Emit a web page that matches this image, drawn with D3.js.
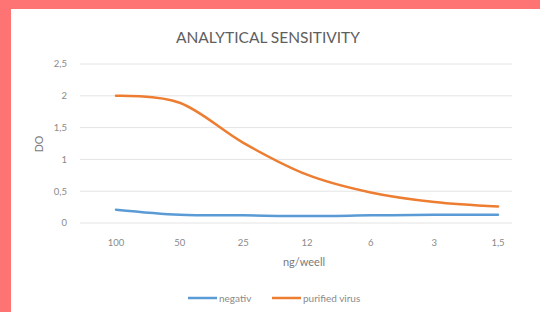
<!DOCTYPE html>
<html>
<head>
<meta charset="utf-8">
<script src="https://cdn.jsdelivr.net/npm/d3@7"></script>
<style>
  body { margin: 0; background: #fe7373; }
  svg { display: block; }
  text { font-family: Lato, "Open Sans", sans-serif; }
</style>
</head>
<body>
<div id="chartDiv"></div>
<script>
const categories = ['100', '50', '25', '12', '6', '3', '1,5'];
const negativ = [0.21, 0.13, 0.12, 0.11, 0.12, 0.13, 0.13];
const purified = [2.0, 1.89, 1.26, 0.76, 0.48, 0.33, 0.26];
const yTicks = [0, 0.5, 1, 1.5, 2, 2.5];
const series = [
    { name: 'negativ', values: negativ, color: '#5b9bd5' },
    { name: 'purified virus', values: purified, color: '#ed7d31' }
];

const W = 540, H = 312;
const svg = d3.select('#chartDiv').append('svg').attr('width', W).attr('height', H);

// white panel
svg.append('rect')
    .attr('x', 11).attr('y', 9)
    .attr('width', W - 11).attr('height', H - 9)
    .attr('fill', '#fff');

const x = d3.scalePoint().domain(categories).range([116, 498]);
const y = d3.scaleLinear().domain([0, 2.5]).range([223, 64]);

// gridlines
svg.append('g').selectAll('line')
    .data(yTicks)
    .enter().append('line')
    .attr('x1', 80).attr('x2', 512)
    .attr('y1', d => y(d)).attr('y2', d => y(d))
    .attr('stroke', '#e4e4e4').attr('stroke-width', 1);

// y labels
svg.append('g').selectAll('text')
    .data(yTicks)
    .enter().append('text')
    .attr('x', 67).attr('y', d => y(d))
    .attr('dy', '0.35em')
    .attr('text-anchor', 'end')
    .attr('font-size', 9.5)
    .attr('fill', '#8a8a8a')
    .text(d => String(d).replace('.', ','));

// x labels
svg.append('g').selectAll('text')
    .data(categories)
    .enter().append('text')
    .attr('x', d => x(d)).attr('y', 246)
    .attr('text-anchor', 'middle')
    .attr('font-size', 9.5)
    .attr('fill', '#8a8a8a')
    .text(d => d);

// title
svg.append('text')
    .attr('x', 268).attr('y', 43)
    .attr('text-anchor', 'middle')
    .attr('font-size', 15.5)
    .attr('fill', '#5e5e5e')
    .text('ANALYTICAL SENSITIVITY');

// axis titles
svg.append('text')
    .attr('transform', 'translate(43,144) rotate(-90)')
    .attr('text-anchor', 'middle')
    .attr('font-size', 10.5)
    .attr('fill', '#7a7a7a')
    .text('DO');

svg.append('text')
    .attr('x', 304).attr('y', 266)
    .attr('text-anchor', 'middle')
    .attr('font-size', 11)
    .attr('fill', '#7a7a7a')
    .text('ng/weell');

// lines
const line = d3.line()
    .x((d, i) => x(categories[i]))
    .y(d => y(d))
    .curve(d3.curveCatmullRom.alpha(0));

svg.append('g').selectAll('path')
    .data(series)
    .enter().append('path')
    .attr('d', d => line(d.values))
    .attr('fill', 'none')
    .attr('stroke', d => d.color)
    .attr('stroke-width', 2.5)
    .attr('stroke-linecap', 'round');

// legend
const legendX = [188, 272];
const leg = svg.append('g').selectAll('g')
    .data(series)
    .enter().append('g')
    .attr('transform', (d, i) => `translate(${legendX[i]},298)`);
leg.append('line')
    .attr('x1', 0).attr('x2', 29)
    .attr('stroke', d => d.color).attr('stroke-width', 2.5);
leg.append('text')
    .attr('x', 31).attr('dy', '0.35em')
    .attr('font-size', 10)
    .attr('fill', '#8a8a8a')
    .text(d => d.name);
</script>
</body>
</html>
